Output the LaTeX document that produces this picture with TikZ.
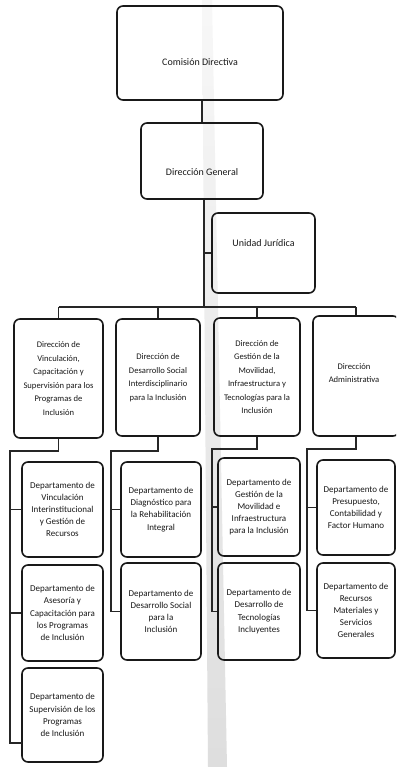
\documentclass[tikz,border=0pt]{standalone}
\usepackage{fontspec}
\setmainfont{Carlito}
\begin{document}
\begin{tikzpicture}[x=1pt,y=-1pt,
  box/.style={draw=black!90, line width=1.6pt, rounded corners=6pt, inner sep=0pt, align=center, text=black!90},
  conn/.style={draw=black!85, line width=1.3pt},
  toptxt/.style={font=\fontsize{10}{12}\selectfont, text=black!90, inner sep=0pt},
  dirtxt/.style={font=\fontsize{8.6}{13.5}\selectfont},
  deptxt/.style={font=\fontsize{9}{12.2}\selectfont},
]
\useasboundingbox (0,0) rectangle (396,767);
\clip (0,0) rectangle (396,767);
\fill[white] (0,0) rectangle (396,767);
% scan band
\shade[top color=black!3, bottom color=black!13] (202,0) -- (212,0) -- (227,767) -- (208,767) -- cycle;

% top level
\node[box, minimum width=166pt, minimum height=94pt] (cd) at (200,53) {};
\node[toptxt] (cdt) at (200,62) {Comisión Directiva};
\node[box, minimum width=122pt, minimum height=76pt] (dg) at (202,161) {};
\node[toptxt] (dgt) at (202,172) {Dirección General};
\node[box, minimum width=103pt, minimum height=80pt] (uj) at (263.5,253) {};
\node[toptxt] (ujt) at (263.5,243) {Unidad Jurídica};

% directions
\node[box, dirtxt, minimum width=89pt, minimum height=119pt] (b1) at (58.5,378.5)
  {Dirección de\\Vinculación,\\Capacitación y\\Supervisión para los\\Programas de\\Inclusión};
\node[box, dirtxt, minimum width=84pt, minimum height=117pt] (b2) at (158,377.5)
  {Dirección de\\Desarrollo Social\\Interdisciplinario\\para la Inclusión};
\node[box, dirtxt, minimum width=86pt, minimum height=118pt] (b3) at (257,377)
  {Dirección de\\Gestión de la\\Movilidad,\\Infraestructura y\\Tecnologías para la\\Inclusión};
\node[box, dirtxt, minimum width=86pt, minimum height=120pt] (b4) at (356,376) {};
\node[toptxt, dirtxt, align=center] (b4t) at (354,373) {Dirección\\Administrativa};

% departments column 1
\node[box, deptxt, minimum width=81pt, minimum height=95pt] (c1d1) at (62.5,509.5)
  {Departamento de\\Vinculación\\Interinstitucional\\y Gestión de\\Recursos};
\node[box, deptxt, minimum width=81pt, minimum height=96pt] (c1d2) at (62.5,613)
  {Departamento de\\Asesoría y\\Capacitación para\\los Programas\\de Inclusión};
\node[box, deptxt, minimum width=81pt, minimum height=94pt] (c1d3) at (62.5,715)
  {Departamento de\\Supervisión de los\\Programas\\de Inclusión};
% column 2
\node[box, deptxt, minimum width=80pt, minimum height=95pt] (c2d1) at (161,509.5)
  {Departamento de\\Diagnóstico para\\la Rehabilitación\\Integral};
\node[box, deptxt, minimum width=80pt, minimum height=97pt] (c2d2) at (161,611.5)
  {Departamento de\\Desarrollo Social\\para la\\Inclusión};
% column 3
\node[box, deptxt, minimum width=82pt, minimum height=98pt] (c3d1) at (259,507)
  {Departamento de\\Gestión de la\\Movilidad e\\Infraestructura\\para la Inclusión};
\node[box, deptxt, minimum width=82pt, minimum height=97pt] (c3d2) at (259,611.5)
  {Departamento de\\Desarrollo de\\Tecnologías\\Incluyentes};
% column 4
\node[box, deptxt, minimum width=78pt, minimum height=95pt] (c4d1) at (356,507.5)
  {Departamento de\\Presupuesto,\\Contabilidad y\\Factor Humano};
\node[box, deptxt, minimum width=78pt, minimum height=95pt] (c4d2) at (356,610.5)
  {Departamento de\\Recursos\\Materiales y\\Servicios\\Generales};

% connectors top
\draw[conn] (cd.south -| dg) -- (dg.north);
\coordinate (trunk) at (204,307);
\draw[conn] (dg.south -| trunk) -- (trunk);
\draw[conn] (uj.west -| trunk) -- (uj.west);
\draw[conn] (b1.north |- trunk) -- (b4.north |- trunk);
\foreach \b in {b1,b2,b3,b4} \draw[conn] (\b.north |- trunk) -- (\b.north);

% column rails
\coordinate (r1) at (10,451);
\coordinate (r2) at (111,451);
\coordinate (r3) at (212,449);
\coordinate (r4) at (307,449);
\coordinate (k13) at (22,743);
\draw[conn] (b1.south) -- (b1.south |- r1) -- (r1) -- (r1 |- k13) -- (k13);
\draw[conn] (r1 |- c1d1.west) -- (c1d1.west);
\draw[conn] (r1 |- c1d2.west) -- (c1d2.west);

\draw[conn] (b2.south) -- (b2.south |- r2) -- (r2) -- (r2 |- c2d2.west) -- (c2d2.west);
\draw[conn] (r2 |- c2d1.west) -- (c2d1.west);

\draw[conn] (b3.south) -- (b3.south |- r3) -- (r3) -- (r3 |- c3d2.west) -- (c3d2.west);
\draw[conn] (r3 |- c3d1.west) -- (c3d1.west);

\draw[conn] (b4.south) -- (b4.south |- r4) -- (r4) -- (r4 |- c4d2.west) -- (c4d2.west);
\draw[conn] (r4 |- c4d1.west) -- (c4d1.west);
\end{tikzpicture}
\end{document}
